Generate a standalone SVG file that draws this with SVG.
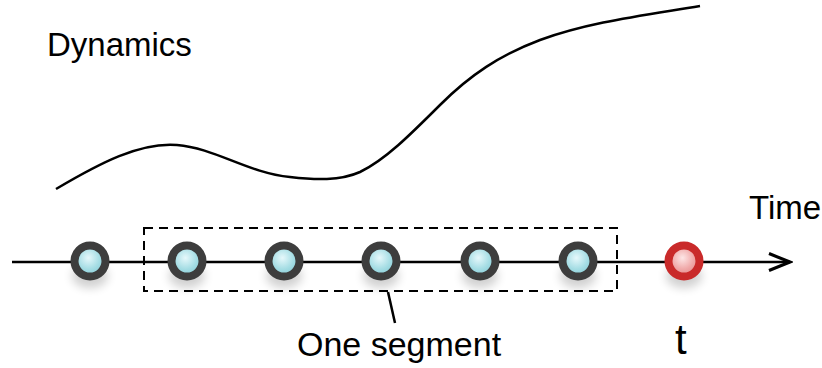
<svg xmlns="http://www.w3.org/2000/svg" width="822" height="368" viewBox="0 0 822 368">
<style>
.lbl{font-family:"Liberation Sans",Arial,sans-serif;fill:#000}
.dot{stroke:#3d3d3d;stroke-width:8;fill:url(#cy)}
.red{stroke:#c92a2a;stroke-width:8;fill:url(#pk)}
.ln{fill:none;stroke:#000;stroke-width:2.5}
</style>
<defs>
<radialGradient id="cy" cx="0.45" cy="0.4" r="0.6"><stop offset="0" stop-color="#e6f8fb"/><stop offset="0.6" stop-color="#a5dde4"/><stop offset="1" stop-color="#86ccd6"/></radialGradient>
<radialGradient id="pk" cx="0.45" cy="0.4" r="0.6"><stop offset="0" stop-color="#fde6e6"/><stop offset="0.6" stop-color="#f0a9a9"/><stop offset="1" stop-color="#e48b8b"/></radialGradient>
<filter id="sh" x="-50%" y="-50%" width="200%" height="220%"><feGaussianBlur stdDeviation="5"/></filter>
<marker id="ar" markerWidth="26" markerHeight="20" refX="23" refY="10" orient="auto" markerUnits="userSpaceOnUse"><path d="M2,1.5 L23,10 L2,18.5" fill="none" stroke="#000" stroke-width="3"/></marker>
</defs>
<text class="lbl" x="47" y="56" font-size="33">Dynamics</text>
<path class="ln" stroke-width="3" d="M56,189 C100,163 140,142 177,145 C215,148 248,173 290,177 C315,180 340,181 360,172 C385,160 410,135 440,105 C470,75 500,55 540,40 C590,22 640,16 700,6"/>
<g id="connectors">
<line class="ln" x1="12" y1="262" x2="790" y2="262" marker-end="url(#ar)"/>
<rect x="144" y="228" width="473" height="63" fill="none" stroke="#000" stroke-width="2" stroke-dasharray="9,6"/>
<line class="ln" x1="388" y1="292" x2="395" y2="323"/>
</g>
<g fill="#000" opacity="0.18" filter="url(#sh)">
<ellipse cx="90" cy="276" rx="18" ry="12"/><ellipse cx="187" cy="276" rx="18" ry="12"/><ellipse cx="284" cy="276" rx="18" ry="12"/><ellipse cx="381" cy="276" rx="18" ry="12"/><ellipse cx="480" cy="276" rx="18" ry="12"/><ellipse cx="578" cy="276" rx="18" ry="12"/><ellipse cx="684" cy="276" rx="18" ry="12"/>
</g>
<g id="n1"><circle class="dot" cx="90" cy="261" r="15.5"/></g>
<g id="n2"><circle class="dot" cx="187" cy="261" r="15.5"/></g>
<g id="n3"><circle class="dot" cx="284" cy="261" r="15.5"/></g>
<g id="n4"><circle class="dot" cx="381" cy="261" r="15.5"/></g>
<g id="n5"><circle class="dot" cx="480" cy="261" r="15.5"/></g>
<g id="n6"><circle class="dot" cx="578" cy="261" r="15.5"/></g>
<g id="nt"><circle class="red" cx="684" cy="261" r="15.5"/></g>
<text class="lbl" x="749" y="219" font-size="33">Time</text>
<text class="lbl" x="297" y="356" font-size="34">One segment</text>
<text class="lbl" x="675" y="354" font-size="42">t</text>
</svg>
